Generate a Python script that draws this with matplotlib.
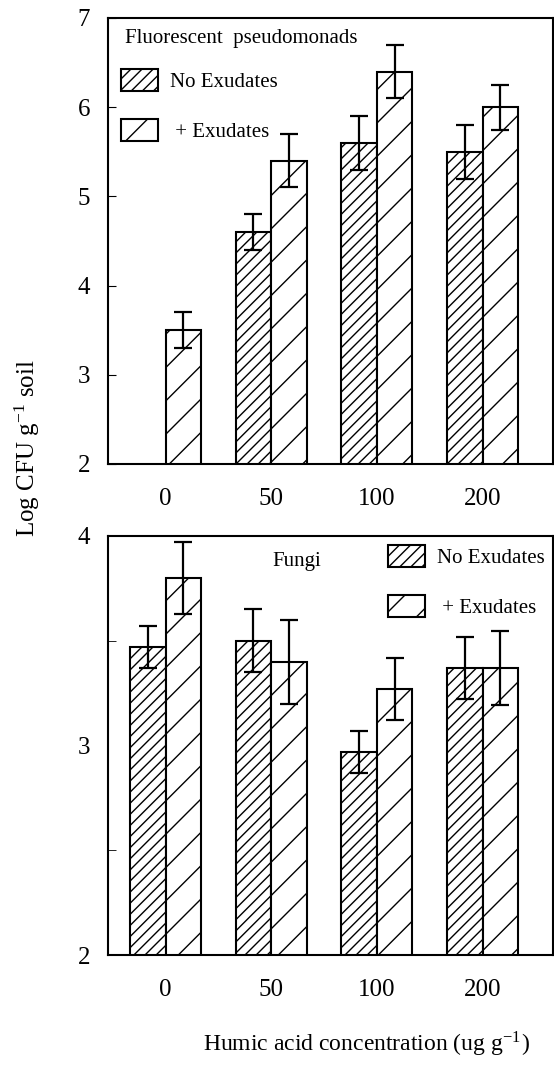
import numpy as np
import matplotlib
matplotlib.use("Agg")
import matplotlib.pyplot as plt
from matplotlib.patches import Patch

plt.rcParams['font.family'] = ['Liberation Serif', 'DejaVu Serif']
plt.rcParams['mathtext.fontset'] = 'stix'
plt.rcParams['hatch.linewidth'] = 1.0

# data
conc = ['0', '50', '100', '200']

pseudo_no = [np.nan, 4.6, 5.6, 5.5]
pseudo_no_err = [np.nan, 0.2, 0.3, 0.3]
pseudo_ex = [3.5, 5.4, 6.4, 6.0]
pseudo_ex_err = [0.2, 0.3, 0.3, 0.25]

fungi_no = [3.47, 3.50, 2.97, 3.37]
fungi_no_err = [0.10, 0.15, 0.10, 0.15]
fungi_ex = [3.80, 3.40, 3.27, 3.37]
fungi_ex_err = [0.17, 0.20, 0.15, 0.175]

W, H = 554, 1069
fig = plt.figure(figsize=(W / 100, H / 100), dpi=100)
ax1 = fig.add_axes([108 / W, 1 - 464 / H, 445 / W, 446 / H])
ax2 = fig.add_axes([108 / W, 1 - 955 / H, 445 / W, 419 / H])

x = np.arange(len(conc))
w = 0.336
dense, sparse = '///', '/'


def draw(ax, no, no_err, ex, ex_err):
    ax.bar(x - w / 2, no, w, color='white', edgecolor='black', hatch=dense, linewidth=1.5)
    ax.bar(x + w / 2, ex, w, color='white', edgecolor='black', hatch=sparse, linewidth=1.5)
    ax.errorbar(x - w / 2, no, yerr=no_err, fmt='none', ecolor='black',
                elinewidth=1.6, capsize=6.5, capthick=1.6)
    ax.errorbar(x + w / 2, ex, yerr=ex_err, fmt='none', ecolor='black',
                elinewidth=1.6, capsize=6.5, capthick=1.6)
    ax.set_xlim(-0.544, 3.666)
    ax.set_xticks(x)
    ax.set_xticklabels(conc)
    ax.tick_params(axis='x', length=0, labelsize=18, pad=17)
    ax.tick_params(axis='y', which='both', direction='in', labelsize=18, pad=13)
    for s in ax.spines.values():
        s.set_linewidth(1.5)


def legend(ax, x0, y0):
    handles = [Patch(facecolor='white', edgecolor='black', hatch=dense, linewidth=1.5),
               Patch(facecolor='white', edgecolor='black', hatch=sparse, linewidth=1.5)]
    ax.legend(handles, ['No Exudates', ' + Exudates'], loc='upper left',
              bbox_to_anchor=(x0, y0), frameon=False, fontsize=15,
              handlelength=1.8, handleheight=1.25, handletextpad=0.55,
              labelspacing=1.3, borderpad=0, borderaxespad=0)


draw(ax1, pseudo_no, pseudo_no_err, pseudo_ex, pseudo_ex_err)
ax1.set_ylim(2, 7)
ax1.set_yticks([2, 3, 4, 5, 6, 7])
ax1.tick_params(axis='y', length=6)
ax1.text(0.038, 0.955, 'Fluorescent  pseudomonads', transform=ax1.transAxes,
         fontsize=15, va='center', ha='left')
legend(ax1, 0.029, 0.886)

draw(ax2, fungi_no, fungi_no_err, fungi_ex, fungi_ex_err)
ax2.set_ylim(2, 4)
ax2.set_yticks([2, 3, 4])
ax2.set_yticks([2.5, 3.5], minor=True)
ax2.tick_params(axis='y', which='major', length=0)
ax2.tick_params(axis='y', which='minor', length=6)
ax2.text(0.425, 0.94, 'Fungi', transform=ax2.transAxes, fontsize=15,
         va='center', ha='center')
legend(ax2, 0.629, 0.978)
ax2.set_xlabel('Humic acid concentration (ug g$^{\\mathregular{-1}}$)', fontsize=17)
ax2.xaxis.set_label_coords(0.582, -0.178)

fig.text(27 / W, 1 - 537 / H, 'Log CFU g$^{\\mathregular{-1}}$ soil', rotation=90,
         fontsize=18, ha='center', va='bottom')

fig.savefig('out.png', dpi=100)
